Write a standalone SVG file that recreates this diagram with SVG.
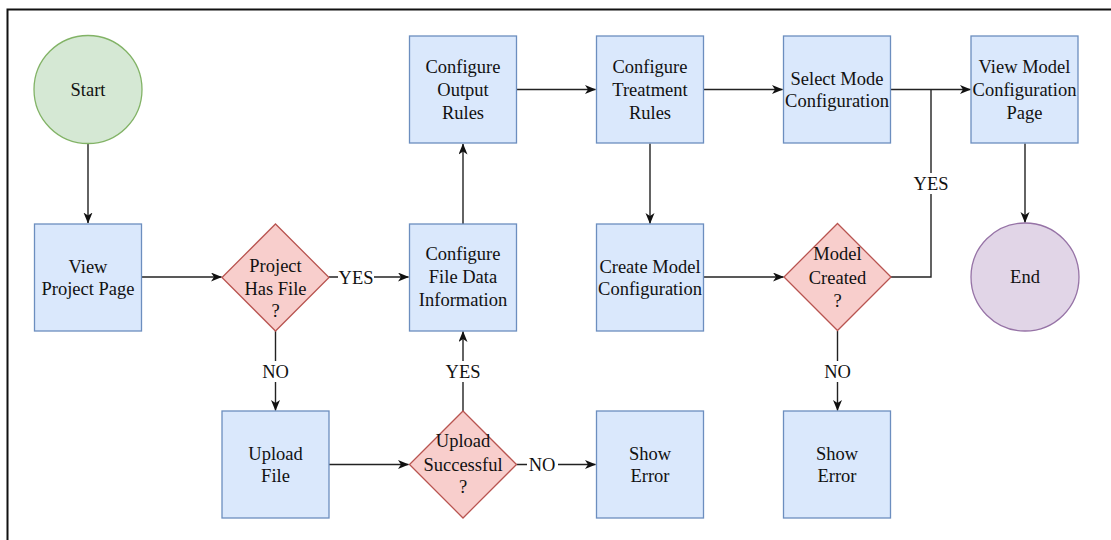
<svg xmlns="http://www.w3.org/2000/svg" width="1111" height="540" viewBox="0 0 1111 540">
  <style>
    .proc { fill: #dae8fc; stroke: #6c8ebf; stroke-width: 1.3; }
    .dec { fill: #f8cecc; stroke: #b85450; stroke-width: 1.3; }
    .start { fill: #d5e8d4; stroke: #82b366; stroke-width: 1.3; }
    .end { fill: #e1d5e7; stroke: #9673a6; stroke-width: 1.3; }
    text { font-family: "Liberation Serif", "Times New Roman", serif; font-size: 18.5px; fill: #111; text-anchor: middle; }
    .edge { fill: none; stroke: #222; stroke-width: 1.4; }
    .edge.arrow { marker-end: url(#arr); }
    .lblbg { fill: #ffffff; }
  </style>
  <defs>
    <marker id="arr" markerUnits="userSpaceOnUse" markerWidth="12" markerHeight="10" refX="10.5" refY="4.5" orient="auto">
      <path d="M0,0 L11,4.5 L0,9 L3,4.5 z" fill="#111"/>
    </marker>
  </defs>

  <rect width="1111" height="540" fill="#ffffff"/>
  <!-- frame (top and left edges) -->
  <path d="M7.5,540 V9.5 H1111" fill="none" stroke="#111" stroke-width="2"/>

  <!-- connectors -->
  <g id="connectors">
    <path class="edge arrow" d="M88,143 V223"/>
    <path class="edge arrow" d="M141.5,277 H221.5"/>
    <path class="edge arrow" d="M329,277 H408.5"/>
    <path class="edge arrow" d="M275.5,331 V410.5"/>
    <path class="edge arrow" d="M329,464.5 H408.5"/>
    <path class="edge arrow" d="M516.5,464.5 H595.5"/>
    <path class="edge arrow" d="M463,411 V331.5"/>
    <path class="edge arrow" d="M463,224 V144"/>
    <path class="edge arrow" d="M516.5,89.5 H595.5"/>
    <path class="edge arrow" d="M650,143.5 V223.5"/>
    <path class="edge arrow" d="M704,89.5 H782.5"/>
    <path class="edge arrow" d="M704,277 H783.5"/>
    <path class="edge arrow" d="M891,89.5 H970.5"/>
    <path class="edge" d="M891,277 H931 V89.5"/>
    <path class="edge arrow" d="M837.5,331 V410.5"/>
    <path class="edge arrow" d="M1025,143.5 V222.5"/>

    <!-- edge labels -->
    <rect class="lblbg" x="338" y="267" width="36" height="21"/>
    <text x="356" y="284">YES</text>
    <rect class="lblbg" x="260" y="361" width="31" height="21"/>
    <text x="275.5" y="377.5">NO</text>
    <rect class="lblbg" x="445" y="361" width="36" height="21"/>
    <text x="463" y="377.5">YES</text>
    <rect class="lblbg" x="527" y="454" width="31" height="21"/>
    <text x="542" y="471">NO</text>
    <rect class="lblbg" x="913" y="173" width="36" height="21"/>
    <text x="931" y="189.5">YES</text>
    <rect class="lblbg" x="822" y="361" width="31" height="21"/>
    <text x="837.5" y="377.5">NO</text>
  </g>

  <!-- nodes -->
  <g id="start">
    <circle class="start" cx="88" cy="89.5" r="54"/>
    <text x="88" y="95.5">Start</text>
  </g>
  <g id="view-project-page">
    <rect class="proc" x="34.5" y="224" width="107" height="107"/>
    <text x="88" y="272.5">View</text>
    <text x="88" y="295">Project Page</text>
  </g>
  <g id="project-has-file">
    <polygon class="dec" points="275.5,224 329,277.5 275.5,331 222,277.5"/>
    <text x="275.5" y="272">Project</text>
    <text x="275.5" y="294.5">Has File</text>
    <text x="275.5" y="317">?</text>
  </g>
  <g id="upload-file">
    <rect class="proc" x="222" y="411" width="107" height="107"/>
    <text x="275.5" y="459.5">Upload</text>
    <text x="275.5" y="482">File</text>
  </g>
  <g id="upload-successful">
    <polygon class="dec" points="463,411 516.5,464.5 463,518 409.5,464.5"/>
    <text x="463" y="447">Upload</text>
    <text x="463" y="470.5">Successful</text>
    <text x="463" y="493">?</text>
  </g>
  <g id="show-error-1">
    <rect class="proc" x="596.5" y="411" width="107" height="107"/>
    <text x="650" y="459.5">Show</text>
    <text x="650" y="482">Error</text>
  </g>
  <g id="configure-file-data">
    <rect class="proc" x="409.5" y="224" width="107" height="107"/>
    <text x="463" y="260">Configure</text>
    <text x="463" y="283">File Data</text>
    <text x="463" y="306">Information</text>
  </g>
  <g id="configure-output-rules">
    <rect class="proc" x="409.5" y="36" width="107" height="107"/>
    <text x="463" y="72.5">Configure</text>
    <text x="463" y="95.5">Output</text>
    <text x="463" y="118.5">Rules</text>
  </g>
  <g id="configure-treatment-rules">
    <rect class="proc" x="596.5" y="36" width="107" height="107"/>
    <text x="650" y="72.5">Configure</text>
    <text x="650" y="95.5">Treatment</text>
    <text x="650" y="118.5">Rules</text>
  </g>
  <g id="create-model-configuration">
    <rect class="proc" x="596.5" y="224" width="107" height="107"/>
    <text x="650" y="272.5">Create Model</text>
    <text x="650" y="295">Configuration</text>
  </g>
  <g id="select-mode-configuration">
    <rect class="proc" x="783.5" y="36" width="107" height="107"/>
    <text x="837" y="85">Select Mode</text>
    <text x="837" y="107">Configuration</text>
  </g>
  <g id="model-created">
    <polygon class="dec" points="837.5,223.5 891,277 837.5,330.5 784,277"/>
    <text x="837.5" y="260">Model</text>
    <text x="837.5" y="283.5">Created</text>
    <text x="837.5" y="306.5">?</text>
  </g>
  <g id="show-error-2">
    <rect class="proc" x="783.5" y="411" width="107" height="107"/>
    <text x="837" y="459.5">Show</text>
    <text x="837" y="482">Error</text>
  </g>
  <g id="view-model-configuration-page">
    <rect class="proc" x="971" y="36" width="107" height="107"/>
    <text x="1024.5" y="72.5">View Model</text>
    <text x="1024.5" y="95.5">Configuration</text>
    <text x="1024.5" y="118.5">Page</text>
  </g>
  <g id="end">
    <circle class="end" cx="1025" cy="277" r="54"/>
    <text x="1025" y="283">End</text>
  </g>
</svg>
